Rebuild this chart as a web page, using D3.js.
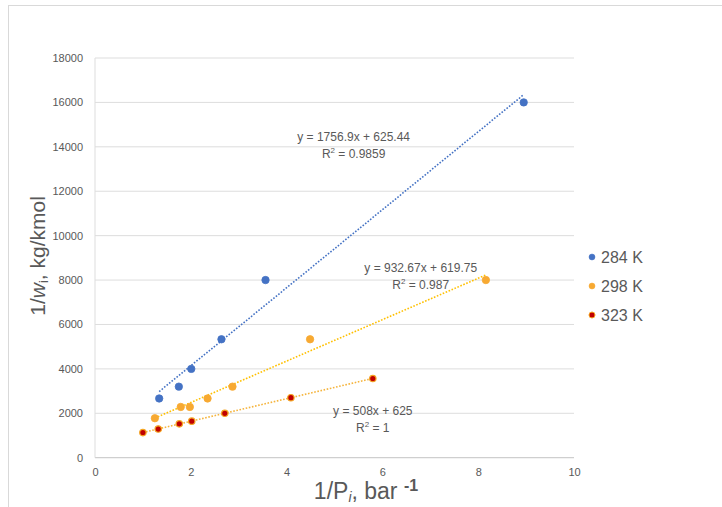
<!DOCTYPE html>
<html>
<head>
<meta charset="utf-8">
<script src="https://cdn.jsdelivr.net/npm/d3@7"></script>
<style>
  body { margin: 0; background: #fff; }
  text { font-family: "Liberation Sans", "DejaVu Sans", sans-serif; fill: #595959; }
</style>
</head>
<body>
<div class="chart-area"></div>
<script>
// series
const seriesNames = ["284 K", "298 K", "323 K"];
const x284 = [1.34, 1.75, 2.01, 2.64, 3.56, 8.95];
const y284 = [2667, 3200, 4000, 5333, 8000, 16000];
const x298 = [1.25, 1.79, 1.98, 2.35, 2.87, 4.49, 8.16];
const y298 = [1778, 2286, 2286, 2667, 3200, 5333, 8000];
const x323 = [1.0, 1.32, 1.76, 2.02, 2.71, 4.09, 5.8];
const y323 = [1130, 1290, 1525, 1645, 2000, 2703, 3565];
// trendline fits (slope, intercept) and their labels
const slopes = [1756.9, 932.67, 508];
const intercepts = [625.44, 619.75, 625];
const eqLabels = ["y = 1756.9x + 625.44", "y = 932.67x + 619.75", "y = 508x + 625"];
const r2Labels = ["0.9859", "0.987", "1"];
const xTicks = [0, 2, 4, 6, 8, 10];
const yTicks = [0, 2000, 4000, 6000, 8000, 10000, 12000, 14000, 16000, 18000];

let outerWidth = 722, outerHeight = 507;
let margin = {top: 58, right: 148, bottom: 49.3, left: 95};
let width = outerWidth - margin.left - margin.right, height = outerHeight - margin.top - margin.bottom;

let root = d3.select('.chart-area').append('svg')
    .attr('width', outerWidth)
    .attr('height', outerHeight);

// chart border
root.append("rect")
    .attr("x", 8.5).attr("y", 5.5)
    .attr("width", 720).attr("height", 520)
    .attr("fill", "none")
    .attr("stroke", "#D9D9D9");

let svg = root.append("g")
    .attr("transform", "translate(" + margin.left + "," + margin.top + ")");

let xScale = d3.scaleLinear().domain([0, 10]).range([0, width]);
let yScale = d3.scaleLinear().domain([0, 18000]).range([height, 0]);

// gridlines
svg.selectAll("line.grid")
    .data(yTicks)
    .enter()
    .append("line")
    .attr("class", "grid")
    .attr("x1", 0).attr("x2", width)
    .attr("y1", d => yScale(d)).attr("y2", d => yScale(d))
    .attr("stroke", d => d === 0 ? "#CFCFCF" : "#DDDDDD")
    .attr("stroke-width", d => d === 0 ? 1.3 : 1);

svg.append("line")
    .attr("x1", 0).attr("x2", 0)
    .attr("y1", 0).attr("y2", height)
    .attr("stroke", "#DDDDDD");

let xAxis = d3.axisBottom(xScale).tickValues(xTicks).tickSize(0).tickPadding(11);
let yAxis = d3.axisLeft(yScale).tickValues(yTicks).tickSize(0).tickPadding(12).tickFormat(d3.format("d"));

let xaxis = svg.append("g").attr("transform", `translate(0, ${height})`).call(xAxis);
let yaxis = svg.append("g").call(yAxis);
xaxis.select(".domain").remove();
yaxis.select(".domain").remove();
root.selectAll(".tick text")
    .attr("font-size", 11)
    .attr("font-family", "Liberation Sans, sans-serif")
    .attr("fill", "#595959");

// trendlines
const xs = [x284, x298, x323];
const ys = [y284, y298, y323];
const lineColors = ["#4472C4", "#FFC000", "#F5B43C"];
const fillColors = ["#4472C4", "#F7A932", "#C00000"];
const strokeColors = ["#4472C4", "#F7A932", "#F5A623"];

const line = d3.line().x(d => xScale(d[0])).y(d => yScale(d[1]));

xs.forEach((xv, i) => {
    const ext = d3.extent(xv);
    const pts = ext.map(x => [x, slopes[i] * x + intercepts[i]]);
    svg.append("path")
        .datum(pts)
        .attr("fill", "none")
        .attr("stroke", lineColors[i])
        .attr("stroke-width", 1.6)
        .attr("stroke-dasharray", "1.6,1.6")
        .attr("d", line);
});

// markers
xs.forEach((xv, i) => {
    svg.selectAll("circle.s" + i)
        .data(xv.map((x, j) => [x, ys[i][j]]))
        .enter()
        .append("circle")
        .attr("class", "s" + i)
        .attr("cx", d => xScale(d[0]))
        .attr("cy", d => yScale(d[1]))
        .attr("r", i === 2 ? 3.2 : 3.7)
        .attr("fill", fillColors[i])
        .attr("stroke", strokeColors[i])
        .attr("stroke-width", i === 2 ? 1.2 : 0.8);
});

// equation labels (positions in data units near each line)
const eqPos = [[5.4, 14260], [6.8, 8360], [5.8, 1920]];
eqPos.forEach((p, i) => {
    const t = svg.append("text")
        .attr("x", xScale(p[0]))
        .attr("y", yScale(p[1]))
        .attr("text-anchor", "middle")
        .attr("font-size", 12);
    t.append("tspan").attr("x", xScale(p[0])).text(eqLabels[i]);
    const t2 = t.append("tspan").attr("x", xScale(p[0])).attr("dy", 17).text("R");
    t2.append("tspan").attr("font-size", 8).attr("dy", -5).text("2");
    t.append("tspan").attr("dy", 5).text(" = " + r2Labels[i]);
});

// legend
const legend = root.append("g").attr("transform", "translate(592, 257)");
seriesNames.forEach((n, i) => {
    const g = legend.append("g").attr("transform", `translate(0, ${i * 29})`);
    g.append("circle").attr("r", 3)
        .attr("fill", fillColors[i])
        .attr("stroke", strokeColors[i])
        .attr("stroke-width", i === 2 ? 1 : 0.5);
    g.append("text").attr("x", 9).attr("dy", "0.36em")
        .attr("font-size", 16).text(n);
});

// axis titles
const yt = root.append("text")
    .attr("transform", "translate(45, 256) rotate(-90)")
    .attr("text-anchor", "middle")
    .attr("font-size", 21);
yt.append("tspan").text("1/");
yt.append("tspan").attr("font-style", "italic").text("w");
yt.append("tspan").attr("font-size", 13).attr("dy", 3).text("i");
yt.append("tspan").attr("dy", -3).text(", kg/kmol");

const xt = root.append("text")
    .attr("x", 366).attr("y", 499)
    .attr("text-anchor", "middle")
    .attr("font-size", 23);
xt.append("tspan").text("1/P");
xt.append("tspan").attr("font-size", 14).attr("font-style", "italic").attr("dy", 3).text("i");
xt.append("tspan").attr("dy", -3).text(", bar ");
xt.append("tspan").attr("font-size", 16).attr("font-weight", "bold").attr("dy", -8).text("-1");
</script>
</body>
</html>
